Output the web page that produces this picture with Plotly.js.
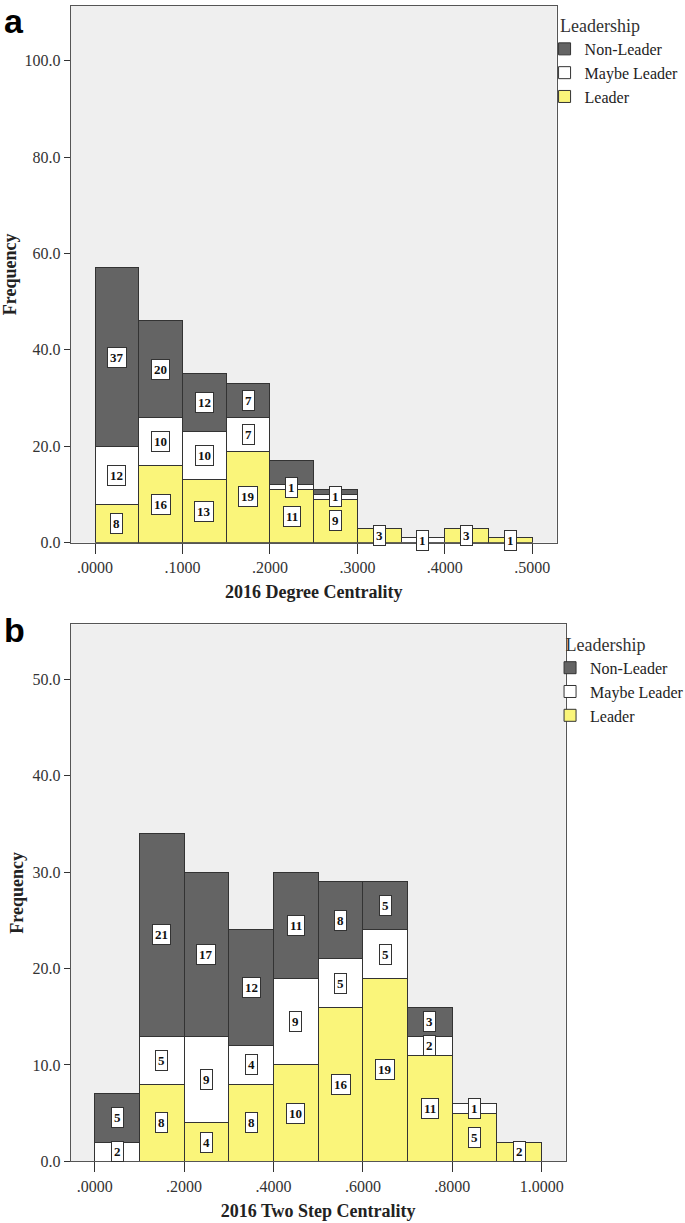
<!DOCTYPE html>
<html>
<head>
<meta charset="utf-8">
<script src="https://cdn.plot.ly/plotly-3.0.1.min.js"></script>
<style>
html,body{margin:0;padding:0;background:#fff;}
#chart{width:685px;height:1223px;}
</style>
</head>
<body>
<div id="chart"></div>
<script>
// ---- Data: panel a (2016 Degree Centrality), bins of width 0.05 ----
const centersA = [0.025, 0.075, 0.125, 0.175, 0.225, 0.275, 0.325, 0.375, 0.425, 0.475];
const widthA = 0.05;
const leaderA = [8, 16, 13, 19, 11, 9, 3, 0, 3, 1];
const maybeA  = [12, 10, 10, 7, 1, 1, 0, 1, 0, 0];
const nonA    = [37, 20, 12, 7, 5, 1, 0, 0, 0, 0];
const tickValsA = [0, 0.1, 0.2, 0.3, 0.4, 0.5];
const tickTextA = ['.0000', '.1000', '.2000', '.3000', '.4000', '.5000'];

// ---- Data: panel b (2016 Two Step Centrality), bins of width 0.1 ----
const centersB = [0.05, 0.15, 0.25, 0.35, 0.45, 0.55, 0.65, 0.75, 0.85, 0.95];
const widthB = 0.1;
const leaderB = [0, 8, 4, 8, 10, 16, 19, 11, 5, 2];
const maybeB  = [2, 5, 9, 4, 9, 5, 5, 2, 1, 0];
const nonB    = [5, 21, 17, 12, 11, 8, 5, 3, 0, 0];
const tickValsB = [0, 0.2, 0.4, 0.6, 0.8, 1.0];
const tickTextB = ['.0000', '.2000', '.4000', '.6000', '.8000', '1.0000'];

// segments whose count label is not printed in the original (panel a, Non-Leader)
const hiddenNonA = [4, 5];

const seriesNames = ['Leader', 'Maybe Leader', 'Non-Leader'];
const colors = ['#faf57a', '#ffffff', '#646464'];

const serif = '"Liberation Serif", "DejaVu Serif", serif';

function makeTraces(centers, width, series, xa, ya, legend, showlegend) {
  return series.map((vals, i) => ({
    type: 'bar',
    x: centers,
    y: vals,
    width: centers.map(() => width),
    name: seriesNames[i],
    xaxis: xa, yaxis: ya,
    legend: legend,
    showlegend: showlegend,
    marker: {color: colors[i], line: {color: '#333333', width: 1}},
    hoverinfo: 'skip'
  }));
}

function makeLabels(centers, series, xref, yref, hidden) {
  const anns = [];
  centers.forEach((c, j) => {
    let base = 0;
    series.forEach((vals, i) => {
      const v = vals[j];
      const skip = hidden && hidden.series === i && hidden.idx.includes(j);
      if (v > 0 && !skip) {
        anns.push({
          x: c, y: base + v / 2, xref: xref, yref: yref,
          text: String(v), showarrow: false,
          font: {family: serif, size: 13, color: '#111', weight: 'bold'},
          bgcolor: '#ffffff', bordercolor: '#333333', borderwidth: 1, borderpad: 2
        });
      }
      base += v;
    });
  });
  return anns;
}

const traces = [
  ...makeTraces(centersA, widthA, [leaderA, maybeA, nonA], 'x', 'y', 'legend', true),
  ...makeTraces(centersB, widthB, [leaderB, maybeB, nonB], 'x2', 'y2', 'legend2', true)
];

const axisCommon = {
  showgrid: false, zeroline: false, showline: true, linecolor: '#555555', linewidth: 1,
  mirror: true, ticks: 'outside', tickcolor: '#333333', tickwidth: 1,
  tickfont: {family: serif, size: 16, color: '#333333'}
};
const titleFont = {family: serif, size: 18, color: '#222', weight: 'bold'};

const layout = {
  width: 685, height: 1223,
  margin: {l: 0, r: 0, t: 0, b: 0, autoexpand: false},
  paper_bgcolor: '#ffffff',
  plot_bgcolor: '#efefef',
  barmode: 'stack',
  bargap: 0,
  xaxis: Object.assign({}, axisCommon, {
    domain: [0.1032, 0.8127], range: [-0.0278, 0.5279], anchor: 'y',
    tickvals: tickValsA, ticktext: tickTextA, ticklen: 10,
    title: {text: '2016 Degree Centrality', standoff: 10, font: titleFont}
  }),
  yaxis: Object.assign({}, axisCommon, {
    domain: [0.5563, 0.9951], range: [0, 111.35], anchor: 'x',
    dtick: 20, tick0: 0, tickformat: '.1f', ticklen: 6,
    title: {text: 'Frequency', standoff: 4, font: titleFont}
  }),
  xaxis2: Object.assign({}, axisCommon, {
    domain: [0.1032, 0.8258], range: [-0.0537, 1.0537], anchor: 'y2',
    tickvals: tickValsB, ticktext: tickTextB, ticklen: 10,
    title: {text: '2016 Two Step Centrality', standoff: 10, font: titleFont}
  }),
  yaxis2: Object.assign({}, axisCommon, {
    domain: [0.0504, 0.4895], range: [0, 55.7], anchor: 'x2',
    dtick: 10, tick0: 0, tickformat: '.1f', ticklen: 6,
    title: {text: 'Frequency', standoff: 4, font: titleFont}
  }),
  legend: {
    x: 0.795, y: 0.993, xanchor: 'left', yanchor: 'top',
    bgcolor: 'rgba(0,0,0,0)',
    title: {text: '&nbsp;&nbsp;&nbsp;Leadership', side: 'top', font: {family: serif, size: 18, color: '#333'}},
    font: {family: serif, size: 16, color: '#222'},
    itemwidth: 30, tracegroupgap: 0
  },
  legend2: {
    x: 0.803, y: 0.487, xanchor: 'left', yanchor: 'top',
    bgcolor: 'rgba(0,0,0,0)',
    title: {text: '&nbsp;&nbsp;&nbsp;Leadership', side: 'top', font: {family: serif, size: 18, color: '#333'}},
    font: {family: serif, size: 16, color: '#222'},
    itemwidth: 30, tracegroupgap: 0
  },
  annotations: [
    ...makeLabels(centersA, [leaderA, maybeA, nonA], 'x', 'y', {series: 2, idx: hiddenNonA}),
    ...makeLabels(centersB, [leaderB, maybeB, nonB], 'x2', 'y2', null),
    {x: 0.003, y: 1.0, xref: 'paper', yref: 'paper', xanchor: 'left', yanchor: 'top',
     text: 'a', showarrow: false, font: {family: 'Liberation Sans, Arial, sans-serif', size: 34, color: '#000', weight: 'bold'}},
    {x: 0.003, y: 0.502, xref: 'paper', yref: 'paper', xanchor: 'left', yanchor: 'top',
     text: 'b', showarrow: false, font: {family: 'Liberation Sans, Arial, sans-serif', size: 34, color: '#000', weight: 'bold'}}
  ]
};

Plotly.newPlot('chart', traces, layout, {displayModeBar: false, staticPlot: true});
</script>
</body>
</html>
